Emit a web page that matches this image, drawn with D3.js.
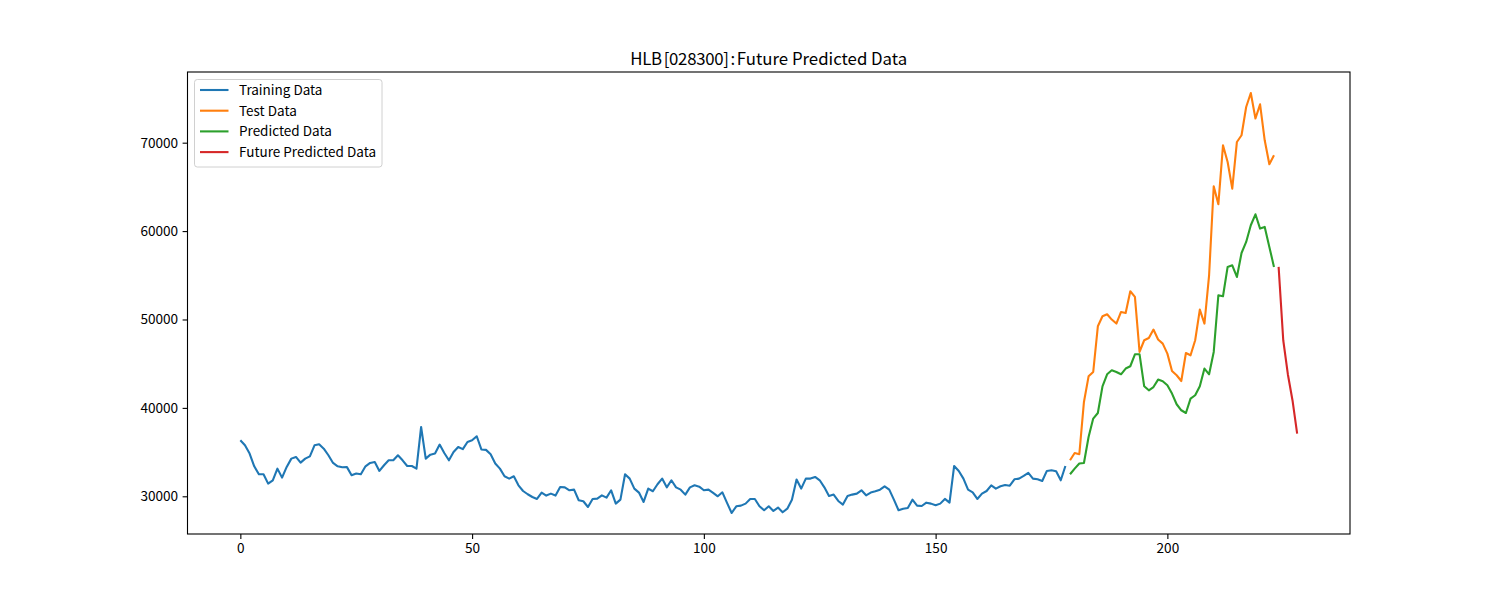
<!DOCTYPE html>
<html>
<head>
<meta charset="utf-8">
<script src="https://cdn.jsdelivr.net/npm/d3@7/dist/d3.min.js"></script>
<style>
  html, body { margin: 0; padding: 0; background: #fff; }
  svg { display: block; }
  text { font-family: "Noto Sans CJK KR", "Noto Sans", sans-serif; fill: #000; }
</style>
</head>
<body>
<svg id="chart" width="1500" height="600"></svg>
<script>
// ---------- data ----------
const titlePrefix = "HLB [028300] : ";
const titleMain = "Future Predicted Data";
const seriesNames = ["Training Data", "Test Data", "Predicted Data", "Future Predicted Data"];
const seriesColors = ["#1f77b4", "#ff7f0e", "#2ca02c", "#d62728"];

const trainStart = 0;
const trainValues = [
36335, 35770, 34830, 33390, 32490, 32490, 31430, 31810, 33130, 32110,
33320, 34260, 34450, 33810, 34260, 34520, 35770, 35880, 35390, 34640,
33770, 33390, 33280, 33300, 32380, 32570, 32490, 33390, 33770, 33880,
32870, 33510, 34070, 34070, 34640, 34070, 33430, 33430, 33130, 37840,
34260, 34710, 34830, 35850, 34900, 34070, 35010, 35580, 35330, 36140,
36330, 36790, 35300, 35250, 34750, 33700, 33130, 32260, 32000, 32260,
31240, 30600, 30230, 29920, 29700, 30420, 30080, 30300, 30080, 31050,
31010, 30680, 30750, 29550, 29440, 28790, 29700, 29740, 30110, 29850,
30680, 29170, 29620, 32490, 32000, 30870, 30420, 29360, 30870, 30570,
31360, 32000, 31010, 31810, 31010, 30750, 30190, 31010, 31240, 31090,
30680, 30750, 30380, 30000, 30450, 29250, 28110, 28870, 28940, 29170,
29700, 29700, 28870, 28420, 28870, 28340, 28720, 28190, 28600, 29620,
31890, 30870, 32000, 32000, 32190, 31810, 31010, 30040, 30190, 29470,
29060, 30040, 30190, 30300, 30680, 30110, 30420, 30570, 30750, 31130,
30750, 29620, 28420, 28600, 28680, 29620, 28940, 28900, 29280, 29170,
28980, 29170, 29700, 29280, 33430, 32870, 32000, 30750, 30450, 29700,
30300, 30600, 31240, 30870, 31130, 31280, 31200, 31920, 32000, 32300,
32640, 32000, 31920, 31730, 32870, 32940, 32830, 31810, 33430
];

const testStart = 179;
const testValues = [
34070, 34900, 34750, 40670, 43570, 44060, 49230, 50360, 50590, 49990,
49540, 50850, 50740, 53190, 52550, 46330, 47650, 47910, 48860, 47730,
47270, 46140, 44170, 43690, 43040, 46210, 45950, 47650, 51120, 49540,
55000, 65070, 63030, 69700, 67820, 64800, 70080, 70840, 74040, 75620,
72730, 74340, 70270, 67560, 68570
];

const predStart = 179;
const predValues = [
32490, 33130, 33700, 33770, 36710, 38790, 39420, 42440, 43800, 44250,
44060, 43800, 44450, 44710, 46060, 46060, 42440, 41990, 42360, 43200,
43010, 42560, 41620, 40410, 39730, 39420, 41050, 41430, 42440, 44450,
43800, 46330, 52740, 52630, 55950, 56130, 54810, 57520, 58770, 60660,
61900, 60280, 60470, 58210, 55950
];

const futureStart = 224;
const futureValues = [55950, 47650, 43780, 40840, 37090];

const xTicks = [0, 50, 100, 150, 200];
const yTicks = [30000, 40000, 50000, 60000, 70000];

// ---------- layout ----------
const plotL = 187.5, plotR = 1350, plotT = 72, plotB = 534;

const toPts = (start, vals) => vals.map((v, i) => ({x: start + i, y: v}));
const series = [
  toPts(trainStart, trainValues),
  toPts(testStart, testValues),
  toPts(predStart, predValues),
  toPts(futureStart, futureValues)
];

const allPts = series.flat();
const xExt = d3.extent(allPts, d => d.x);
const yExt = d3.extent(allPts, d => d.y);
const xm = (xExt[1] - xExt[0]) * 0.05, ym = (yExt[1] - yExt[0]) * 0.05;

const x = d3.scaleLinear().domain([xExt[0] - xm, xExt[1] + xm]).range([plotL, plotR]);
const y = d3.scaleLinear().domain([yExt[0] - ym, yExt[1] + ym]).range([plotB, plotT]);

const svg = d3.select("#chart");

svg.append("defs").append("clipPath").attr("id", "clip")
  .append("rect").attr("x", plotL).attr("y", plotT).attr("width", plotR - plotL).attr("height", plotB - plotT);

const line = d3.line().x(d => x(d.x)).y(d => y(d.y));
const g = svg.append("g").attr("clip-path", "url(#clip)");
series.forEach((s, i) => {
  g.append("path").datum(s)
    .attr("d", line)
    .attr("fill", "none")
    .attr("stroke", seriesColors[i])
    .attr("stroke-width", 2.1)
    .attr("stroke-linejoin", "round")
    .attr("stroke-linecap", "butt");
});

// axes
const xAxis = d3.axisBottom(x).tickValues(xTicks).tickSize(4.9).tickPadding(4.5).tickFormat(d3.format("d"));
const yAxis = d3.axisLeft(y).tickValues(yTicks).tickSize(4.9).tickPadding(4.5).tickFormat(d3.format("d"));

const gx = svg.append("g").attr("transform", `translate(0,${plotB})`).call(xAxis);
const gy = svg.append("g").attr("transform", `translate(${plotL},0)`).call(yAxis);
[gx, gy].forEach(a => {
  a.select(".domain").remove();
  a.selectAll(".tick line").attr("stroke", "#000").attr("stroke-width", 1.1);
  a.selectAll(".tick text").attr("font-size", "13.6px").attr("fill", "#000")
    .style("font-family", '"Noto Sans CJK KR", "Noto Sans", sans-serif');
});

// frame
svg.append("rect").attr("x", plotL).attr("y", plotT).attr("width", plotR - plotL).attr("height", plotB - plotT)
  .attr("fill", "none").attr("stroke", "#000").attr("stroke-width", 1.1);

// title
const t = svg.append("text").attr("x", (plotL + plotR) / 2).attr("y", 65)
  .attr("text-anchor", "middle").attr("font-size", "16.8px").attr("xml:space", "preserve");
t.append("tspan").style("word-spacing", "-1.5px").style("letter-spacing", "-0.3px").text(titlePrefix);
t.append("tspan").text(titleMain);

// legend
const lg = svg.append("g");
lg.append("rect").attr("x", 194.5).attr("y", 79.5).attr("width", 187.5).attr("height", 87.5)
  .attr("rx", 2.8).attr("fill", "#fff").attr("fill-opacity", 0.8)
  .attr("stroke", "#d0d0d0").attr("stroke-width", 1);
seriesNames.forEach((n, i) => {
  const yy = 90 + i * 20.7;
  lg.append("line").attr("x1", 200).attr("x2", 228.5).attr("y1", yy).attr("y2", yy)
    .attr("stroke", seriesColors[i]).attr("stroke-width", 2.1);
  lg.append("text").attr("x", 239).attr("y", yy + 4.8).attr("font-size", "13.5px").text(n);
});
</script>
</body>
</html>
